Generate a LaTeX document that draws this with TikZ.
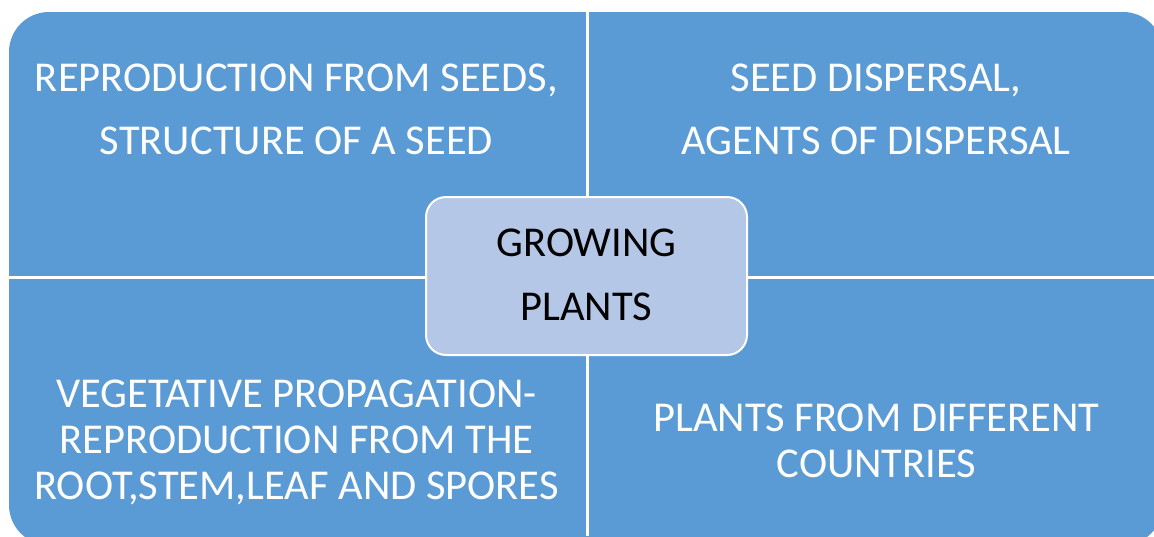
\documentclass[tikz,border=0pt]{standalone}
\usepackage{fontspec}
\setmainfont{Carlito}
\definecolor{qblue}{HTML}{5B9BD5}
\definecolor{cblue}{HTML}{B4C7E7}
\tikzset{
  qtext/.style={text=white, align=center, font=\fontsize{42.5}{46}\selectfont, inner sep=0pt},
  ctext/.style={text=black, align=center, font=\fontsize{42.5}{64}\selectfont, inner sep=0pt},
  divider/.style={white, line width=3pt},
  centerbox/.style={fill=cblue, draw=white, line width=2pt, rounded corners=20pt}
}
\begin{document}
\begin{tikzpicture}[x=1pt,y=-1pt]
\useasboundingbox (0,0) rectangle (1154,536);
\begin{scope}
\clip (0,0) rectangle (1154,536);
\fill[qblue, rounded corners=40pt] (9,12) rectangle (1163,545);
\end{scope}
\coordinate (vt) at (587,12);
\coordinate (vb) at (587,536);
\coordinate (hl) at (9,277);
\coordinate (hr) at (1154,277);
\draw[divider] (vt) -- (vb);
\draw[divider] (hl) -- (hr);
\draw[centerbox] (426,197) rectangle (747,355);
\node[qtext] (tl) at (296.5,109.5) {REPRODUCTION FROM SEEDS,\\[17pt]STRUCTURE OF A SEED};
\node[qtext] (tr) at (876,109.5) {SEED DISPERSAL,\\[17pt]AGENTS OF DISPERSAL};
\node[qtext] (bl) at (296.5,442) {VEGETATIVE PROPAGATION-\\REPRODUCTION FROM THE\\ROOT,STEM,LEAF AND SPORES};
\node[qtext] (br) at (876.5,440.5) {PLANTS FROM DIFFERENT\\COUNTRIES};
\node[ctext] (c) at (586.5,275) {GROWING\\PLANTS};
\end{tikzpicture}
\end{document}
